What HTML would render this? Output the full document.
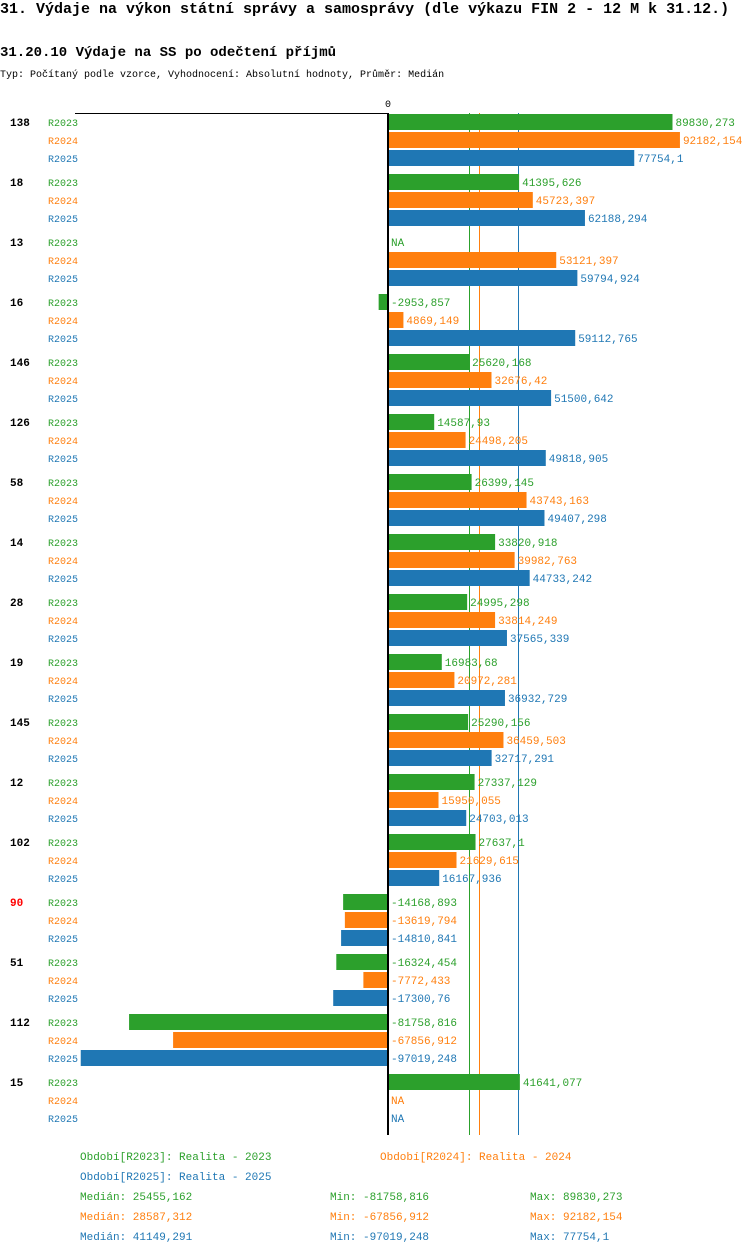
<!DOCTYPE html>
<html><head><meta charset="utf-8"><style>
body{margin:0;background:#fff;width:750px;height:1254px;overflow:hidden}
svg{display:block;font-family:"Liberation Mono",monospace}
</style></head><body>
<svg id="c" width="750" height="1254">
<text x="0" y="13" font-size="15" font-weight="bold">31. Výdaje na výkon státní správy a samosprávy (dle výkazu FIN 2 - 12 M k 31.12.)</text>
<text x="0" y="56" font-size="14" font-weight="bold">31.20.10 Výdaje na SS po odečtení příjmů</text>
<text x="0" y="77" font-size="10">Typ: Počítaný podle vzorce, Vyhodnocení: Absolutní hodnoty, Průměr: Medián</text>
<text x="388" y="107" font-size="10" text-anchor="middle">0</text>
<line x1="75" y1="113.5" x2="388" y2="113.5" stroke="#000"/>
<g id="med"></g><g id="bars"></g>
<line x1="388" y1="113" x2="388" y2="1135" stroke="#000" stroke-width="2"/>
<g font-size="11">
<text x="80" y="1160" fill="#2ca02c">Období[R2023]: Realita - 2023</text>
<text x="380" y="1160" fill="#ff7f0e">Období[R2024]: Realita - 2024</text>
<text x="80" y="1180" fill="#1f77b4">Období[R2025]: Realita - 2025</text>
<text x="80" y="1200" fill="#2ca02c">Medián: 25455,162</text>
<text x="330" y="1200" fill="#2ca02c">Min: -81758,816</text>
<text x="530" y="1200" fill="#2ca02c">Max: 89830,273</text>
<text x="80" y="1220" fill="#ff7f0e">Medián: 28587,312</text>
<text x="330" y="1220" fill="#ff7f0e">Min: -67856,912</text>
<text x="530" y="1220" fill="#ff7f0e">Max: 92182,154</text>
<text x="80" y="1240" fill="#1f77b4">Medián: 41149,291</text>
<text x="330" y="1240" fill="#1f77b4">Min: -97019,248</text>
<text x="530" y="1240" fill="#1f77b4">Max: 77754,1</text>
</g>
</svg>
<script>
const categories=["138","18","13","16","146","126","58","14","28","19","145","12","102","90","51","112","15"];
const seriesNames=["R2023","R2024","R2025"];
const r2023=[89830.273,41395.626,null,-2953.857,25620.168,14587.93,26399.145,33820.918,24995.298,16983.68,25290.156,27337.129,27637.1,-14168.893,-16324.454,-81758.816,41641.077];
const r2024=[92182.154,45723.397,53121.397,4869.149,32676.42,24498.205,43743.163,39982.763,33814.249,20972.281,36459.503,15950.055,21629.615,-13619.794,-7772.433,-67856.912,null];
const r2025=[77754.1,62188.294,59794.924,59112.765,51500.642,49818.905,49407.298,44733.242,37565.339,36932.729,32717.291,24703.013,16167.936,-14810.841,-17300.76,-97019.248,null];
const medians=[25455.162,28587.312,41149.291];
const redCategories=["90"];
const colors=["#2ca02c","#ff7f0e","#1f77b4"];
const series=[r2023,r2024,r2025];
const x0=388, k=0.003167;
const xs=v=>x0+v*k;
const NS="http://www.w3.org/2000/svg";
const svg=document.getElementById('c'),bars=document.getElementById('bars'),med=document.getElementById('med');
function mk(tag,attrs,parent){const e=document.createElementNS(NS,tag);for(const a in attrs)e.setAttribute(a,attrs[a]);parent.appendChild(e);return e;}
medians.forEach((m,i)=>{const l=mk('line',{x1:Math.round(xs(m))+0.5,x2:Math.round(xs(m))+0.5,y1:113,y2:1135,stroke:colors[i],'stroke-width':1},med);

});
const fmt=v=>String(v).replace('.',',');
categories.forEach((c,i)=>{
  const top=114+60*i;
  const t=mk('text',{x:10,y:top+12,'font-size':11,'font-weight':'bold',fill:redCategories.includes(c)?'#ff0000':'#000'},svg);
  t.textContent=c;
  
  
  series.forEach((s,j)=>{
    const y=top+18*j, v=s[i];
    const lb=mk('text',{x:48,y:y+12,'font-size':10,fill:colors[j]},svg);
    lb.textContent=seriesNames[j];
    
    
    let tx=391;
    if(v!==null){
      const xe=xs(v);
      const r=mk('rect',{x:v>=0?389:xe,y:y,width:v>=0?Math.max(0,xe-389):387-xe,height:16,fill:colors[j]},bars);
      
      
      if(v>=0)tx=xe+3;
    }
    const vl=mk('text',{x:tx,y:y+12,'font-size':11,fill:colors[j]},bars);
    vl.textContent=v===null?'NA':fmt(v);
    
    
  });
});
</script>
</body></html>
